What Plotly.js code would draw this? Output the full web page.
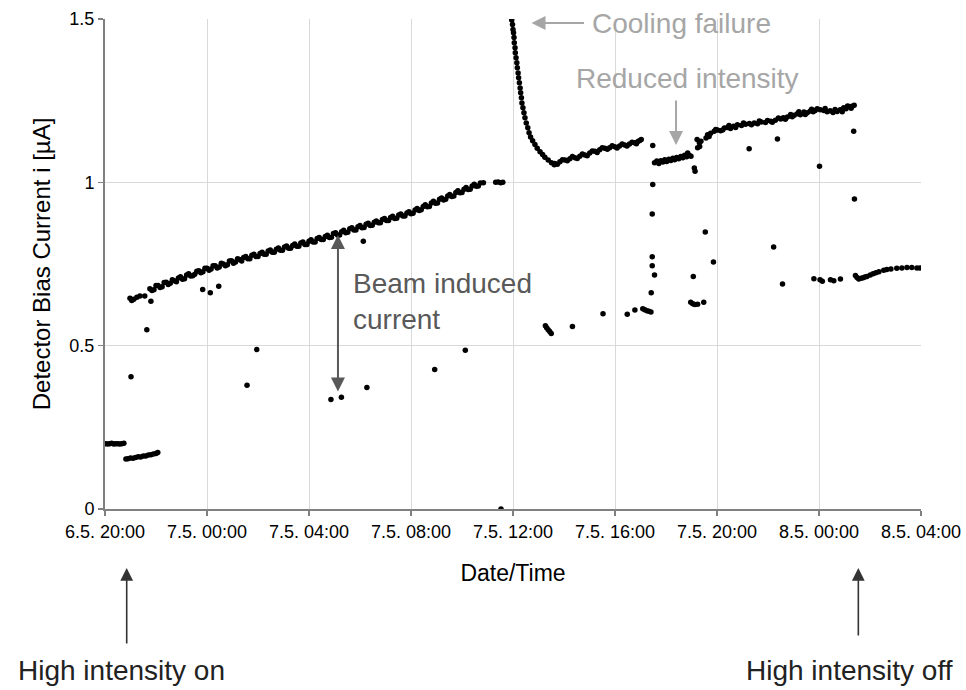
<!DOCTYPE html>
<html>
<head>
<meta charset="utf-8">
<script src="https://cdn.plot.ly/plotly-3.0.1.min.js"></script>
<style>html,body{margin:0;padding:0;background:#fff;}#chart{width:966px;height:690px;}</style>
</head>
<body>
<div id="chart"></div>
<script>
// Times are hours after 6.5. 20:00; currents in µA
const preBeamHours = [0.02,0.1,0.18,0.26,0.34,0.42,0.5,0.58,0.66,0.74];
const preBeamCurrent = [0.200,0.199,0.200,0.201,0.199,0.200,0.200,0.199,0.200,0.201];

const lowHours = [0.82,0.9,1.0,1.1,1.2,1.3,1.4,1.5,1.6,1.7,1.8,1.9,2.0,2.07];
const lowCurrent = [0.153,0.154,0.156,0.155,0.158,0.160,0.159,0.162,0.162,0.165,0.166,0.168,0.170,0.173];

const rampHours = [0.98,1.05,1.13,1.25,1.37,1.56,
  1.76,1.92,2.08,2.24,2.40,2.56,2.72,2.88,3.04,3.20,3.36,3.52,3.68,3.84,4.00,4.16,4.32,4.48,4.64,4.80,4.96,5.12,5.28,5.44,5.60,5.76,5.92,6.08,6.24,6.40,6.56,6.72,6.88,7.04,7.20,7.36,7.52,7.68,7.84,8.00,8.16,8.32,8.48,8.64,8.80,8.96,9.12,9.28,9.44,9.60,9.76,9.92,10.08,10.24,10.40,10.56,10.72,10.88,11.04,11.20,11.36,11.52,11.68,11.84,12.00,12.16,12.32,12.48,12.64,12.80,12.96,13.12,13.28,13.44,13.60,13.76,13.92,14.08,14.24,14.40,14.56,14.72,14.84];
const rampCurrent = [0.645,0.638,0.642,0.648,0.652,0.652,
  0.674,0.671,0.684,0.680,0.694,0.691,0.699,0.707,0.703,0.716,
  0.713,0.719,0.729,0.726,0.737,0.735,0.745,0.741,0.750,0.748,
  0.760,0.756,0.764,0.770,0.766,0.777,0.773,0.782,0.780,0.790,
  0.786,0.795,0.792,0.802,0.798,0.807,0.804,0.814,0.810,0.820,
  0.817,0.828,0.825,0.834,0.831,0.843,0.839,0.849,0.846,0.858,
  0.854,0.864,0.861,0.872,0.868,0.878,0.876,0.886,0.883,0.892,
  0.889,0.900,0.897,0.906,0.904,0.915,0.914,0.926,0.925,0.937,
  0.936,0.948,0.946,0.958,0.957,0.969,0.968,0.979,0.978,0.989,
  0.988,0.998,0.999];

const rampMidHours = [1.84,2.00,2.16,2.32,2.48,2.64,2.80,2.96,3.12,3.28,3.44,3.60,3.76,3.92,4.08,4.24,4.40,4.56,4.72,4.88,5.04,5.20,5.36,5.52,5.68,5.84,6.00,6.16,6.32,6.48,6.64,6.80,6.96,7.12,7.28,7.44,7.60,7.76,7.92,8.08,8.24,8.40,8.56,8.72,8.88,9.04,9.20,9.36,9.52,9.68,9.84,10.00,10.16,10.32,10.48,10.64,10.80,10.96,11.12,11.28,11.44,11.60,11.76,11.92,12.08,12.24,12.40,12.56,12.72,12.88,13.04,13.20,13.36,13.52,13.68,13.84,14.00,14.16,14.32,14.48,14.64];
const rampMidCurrent = [0.669,0.684,0.678,0.693,0.687,0.702,0.696,0.711,0.705,0.720,
  0.714,0.728,0.723,0.737,0.731,0.745,0.738,0.752,0.745,0.759,
  0.752,0.766,0.759,0.773,0.766,0.780,0.773,0.786,0.780,0.793,
  0.786,0.799,0.792,0.805,0.798,0.811,0.804,0.817,0.810,0.824,
  0.817,0.831,0.825,0.838,0.832,0.846,0.839,0.853,0.847,0.861,
  0.854,0.868,0.862,0.875,0.869,0.882,0.876,0.889,0.883,0.896,
  0.890,0.903,0.897,0.910,0.905,0.920,0.916,0.931,0.926,0.942,
  0.937,0.952,0.948,0.963,0.958,0.974,0.969,0.984,0.979,0.994,
  0.989];

const plateauHours = [15.32,15.42,15.52,15.6];
const plateauCurrent = [1.000,1.001,0.999,1.000];

const coolingHours = [15.95,15.98,16.00,16.02,16.04,16.05,16.08,16.09,16.12,16.15,16.17,16.20,16.22,16.25,16.28,16.30,16.33,16.35,16.39,16.43,16.47,16.52,16.58,16.63,16.69,16.77,16.86,16.95,17.06,17.16,17.25,17.38,17.51,17.62,
  17.64,17.84,18.04,18.23,18.43,18.62,18.82,19.01,19.21,19.40,19.60,19.79,19.99,20.18,20.38,20.57,20.77,20.90,21.03,
  17.74,17.94,18.13,18.33,18.52,18.72,18.91,19.11,19.30,19.50,19.70,19.89,20.08,20.28,20.47,20.67,20.84,20.97];
const coolingCurrent = [1.497,1.483,1.468,1.458,1.443,1.427,1.412,1.397,1.381,1.366,1.351,1.335,1.320,1.305,1.289,1.274,1.259,1.243,1.228,1.213,1.198,1.182,1.167,1.152,1.139,1.127,1.116,1.104,1.094,1.085,1.077,1.068,1.060,1.054,
  1.058,1.063,1.068,1.072,1.075,1.080,1.084,1.090,1.095,1.100,1.104,1.106,1.109,1.111,1.114,1.117,1.121,1.125,1.131,
  1.055,1.069,1.066,1.079,1.073,1.087,1.081,1.096,1.091,1.106,1.101,1.112,1.105,1.117,1.111,1.123,1.118,1.128];

const reducedHours = [21.55,21.64,21.72,21.80,21.88,21.95,22.03,22.11,22.19,22.27,22.34,22.42,22.50,22.58,22.66,22.73,22.81,22.85,22.91,22.98,23.11,23.14,23.22,23.24,23.31,23.37,23.32];
const reducedCurrent = [1.060,1.065,1.058,1.066,1.062,1.069,1.064,1.071,1.067,1.074,1.069,1.076,1.072,1.079,1.075,1.083,1.078,1.090,1.083,1.080,1.044,1.034,1.131,1.106,1.121,1.126,1.110];

const recoveryHours = [23.57,23.63,23.75,23.89,24.02,24.14,24.29,24.41,24.53,24.65,24.80,24.96,25.12,25.27,25.46,25.59,25.74,25.90,26.11,26.29,26.50,26.60,26.76,26.89,27.03,27.15,27.27,27.41,27.54,27.66,27.77,27.93,28.05,28.19,28.32,28.44,28.55,28.71,28.83,28.97,29.06,29.18,29.30,29.38,
  23.69,23.95,24.22,24.47,24.73,25.04,25.35,25.66,25.98,26.17,26.41,26.68,26.95,27.21,27.46,27.71,27.85,28.24,28.63,28.91,29.12,29.26];
const recoveryCurrent = [1.136,1.146,1.150,1.156,1.160,1.158,1.166,1.168,1.165,1.172,1.176,1.174,1.178,1.180,1.182,1.179,1.185,1.183,1.187,1.190,1.194,1.198,1.200,1.208,1.205,1.210,1.207,1.215,1.213,1.218,1.216,1.225,1.222,1.220,1.216,1.219,1.214,1.217,1.222,1.228,1.225,1.232,1.233,1.236,
  1.140,1.162,1.160,1.174,1.168,1.182,1.176,1.188,1.189,1.184,1.197,1.193,1.201,1.216,1.208,1.224,1.220,1.226,1.223,1.216,1.234,1.227];

const beamOffHours = [27.80,28.04,28.13,28.45,28.58,28.84,
  29.43,29.49,29.56,29.65,29.73,29.80,29.88,30.01,30.12,30.23,30.35,30.54,30.66,30.82,31.05,31.25,31.45,31.64,31.84,31.96];
const beamOffCurrent = [0.705,0.702,0.697,0.702,0.699,0.704,
  0.715,0.709,0.704,0.706,0.708,0.710,0.712,0.716,0.720,0.723,0.726,0.731,0.733,0.735,0.737,0.738,0.739,0.739,0.738,0.738];

const dropHours = [17.27,17.32,17.38,17.44,17.50,18.33,19.53,20.48,20.78,21.09,21.17,21.25,21.33,21.41,22.97,23.05,23.13,23.24,23.48];
const dropCurrent = [0.561,0.555,0.549,0.543,0.537,0.559,0.598,0.596,0.609,0.613,0.610,0.607,0.605,0.603,0.633,0.628,0.626,0.627,0.633];

const spikeHours = [1.02,1.64,1.80,3.83,4.13,4.46,5.57,5.95,8.86,9.27,10.13,10.27,12.93,14.13,15.53,
  21.42,21.55,21.46,21.46,21.46,21.48,21.48,23.07,23.54,23.86,25.26,26.22,26.37,26.57,28.02,29.36,29.39];
const spikeCurrent = [0.405,0.549,0.636,0.672,0.662,0.682,0.379,0.488,0.335,0.342,0.820,0.372,0.427,0.486,0.000,
  0.662,0.716,0.745,0.772,0.903,0.993,1.113,0.712,0.848,0.756,1.103,0.802,1.133,0.689,1.049,1.156,0.949];

const tickStepHours = 4;
const spanHours = 32;

const base = Date.UTC(2004, 4, 6, 20, 0, 0);
const toDate = h => base + h * 3600000;

const allHours = [].concat(preBeamHours, lowHours, rampHours, rampMidHours, plateauHours, coolingHours, reducedHours, recoveryHours, beamOffHours, dropHours, spikeHours);
const allCurrent = [].concat(preBeamCurrent, lowCurrent, rampCurrent, rampMidCurrent, plateauCurrent, coolingCurrent, reducedCurrent, recoveryCurrent, beamOffCurrent, dropCurrent, spikeCurrent);

const trace = {
  type: 'scatter',
  mode: 'markers',
  x: allHours.map(toDate),
  y: allCurrent,
  marker: {color: '#000000', size: 5.5},
  showlegend: false,
  hoverinfo: 'skip'
};

const font = 'Liberation Sans, Arial, sans-serif';
const lightGray = '#a6a6a6';
const darkGray = '#595959';

const layout = {
  width: 966, height: 690,
  margin: {l: 105, r: 45, t: 19, b: 181},
  paper_bgcolor: '#ffffff', plot_bgcolor: '#ffffff',
  font: {family: font, color: '#000000'},
  showlegend: false,
  xaxis: {
    type: 'date',
    range: [toDate(0), toDate(spanHours)],
    tick0: toDate(0),
    dtick: tickStepHours * 3600000,
    tickformat: '%-d.%-m. %H:%M',
    showgrid: true, gridcolor: '#d9d9d9', gridwidth: 1,
    showline: true, linecolor: '#808080', linewidth: 2,
    ticks: 'outside', ticklen: 5, tickcolor: '#808080', tickwidth: 1.5,
    zeroline: false,
    tickfont: {size: 18, family: font, color: '#000'},
    title: {text: 'Date/Time', font: {size: 23, family: font, color: '#000'}, standoff: 24}
  },
  yaxis: {
    range: [0, 1.5],
    dtick: 0.5, tick0: 0,
    showgrid: true, gridcolor: '#d9d9d9', gridwidth: 1,
    showline: true, linecolor: '#808080', linewidth: 2,
    ticks: 'outside', ticklen: 5, tickcolor: '#808080', tickwidth: 1.5,
    zeroline: false,
    tickfont: {size: 18, family: font, color: '#000'},
    title: {text: 'Detector Bias Current i [µA]', font: {size: 24, family: font, color: '#000'}, standoff: 12}
  },
  annotations: [
    {xref: 'paper', yref: 'paper', x: 0.5227, y: 0.9918, text: '', showarrow: true, ax: 54, ay: 0,
     arrowcolor: lightGray, arrowwidth: 2, arrowhead: 2, arrowsize: 1.4},
    {xref: 'paper', yref: 'paper', x: 0.5944, y: 0.9898, xanchor: 'left', yanchor: 'middle', showarrow: false,
     text: 'Cooling failure', font: {size: 28, family: font, color: lightGray}},
    {xref: 'paper', yref: 'paper', x: 0.5748, y: 0.8776, xanchor: 'left', yanchor: 'middle', showarrow: false,
     text: 'Reduced intensity', font: {size: 28, family: font, color: lightGray}},
    {xref: 'paper', yref: 'paper', x: 0.6998, y: 0.7429, text: '', showarrow: true, ax: 0, ay: -46,
     arrowcolor: lightGray, arrowwidth: 2, arrowhead: 2, arrowsize: 1.4},
    {xref: 'paper', yref: 'paper', x: 0.3015, y: 0.4235, xanchor: 'left', yanchor: 'middle', align: 'left', showarrow: false,
     text: 'Beam induced<br>current', font: {size: 28, family: font, color: darkGray}},
    {xref: 'paper', yref: 'paper', x: 0.2855, y: 0.5592, text: '', showarrow: true, ax: 0, ay: 158,
     arrowside: 'end+start', arrowcolor: darkGray, arrowwidth: 2, arrowhead: 2, arrowsize: 1.4},
    {xref: 'paper', yref: 'paper', x: 0.0202, y: -0.3286, xanchor: 'center', yanchor: 'middle', showarrow: false,
     text: 'High intensity on', font: {size: 28, family: font, color: '#222222'}},
    {xref: 'paper', yref: 'paper', x: 0.0266, y: -0.1204, text: '', showarrow: true, ax: 0, ay: 77,
     arrowcolor: '#333333', arrowwidth: 1.6, arrowhead: 2, arrowsize: 1.6},
    {xref: 'paper', yref: 'paper', x: 0.9118, y: -0.3286, xanchor: 'center', yanchor: 'middle', showarrow: false,
     text: 'High intensity off', font: {size: 28, family: font, color: '#222222'}},
    {xref: 'paper', yref: 'paper', x: 0.9232, y: -0.1204, text: '', showarrow: true, ax: 0, ay: 69,
     arrowcolor: '#333333', arrowwidth: 1.6, arrowhead: 2, arrowsize: 1.6}
  ]
};

Plotly.newPlot('chart', [trace], layout, {staticPlot: true, displayModeBar: false});
</script>
</body>
</html>
